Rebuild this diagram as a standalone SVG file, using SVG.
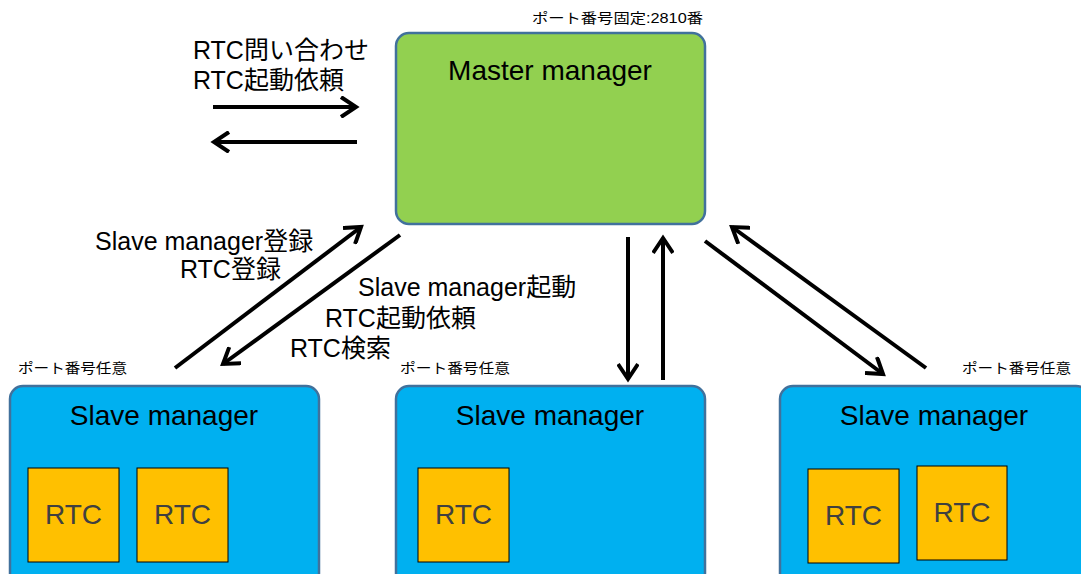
<svg xmlns="http://www.w3.org/2000/svg" width="1081" height="574" viewBox="0 0 1081 574">
<style>
text{font-family:"Liberation Sans","Noto Sans CJK JP",sans-serif;fill:#000}
.mgr{fill:#92D050;stroke:#41719C;stroke-width:2.5}
.slv{fill:#00B0F0;stroke:#41719C;stroke-width:2.5}
.rtc{fill:#FFC000;stroke:#000;stroke-width:1}
.rt{font-size:28px;fill:#404040;text-anchor:middle}
.title{font-size:28px;text-anchor:middle}
.lbl{font-size:25px}
.port{font-size:14px}
.arr{stroke:#000;stroke-width:4;fill:none;marker-end:url(#ah)}
</style>
<defs>
<marker id="ah" markerUnits="userSpaceOnUse" viewBox="0 0 22 22" markerWidth="22" markerHeight="22" refX="18" refY="11" orient="auto">
<path d="M3,1 L18,11 L3,21" fill="none" stroke="#000" stroke-width="4" stroke-linejoin="miter"/>
</marker>
</defs>
<g id="master">
<rect class="mgr" x="396" y="33" width="309" height="191" rx="13"/>
<text class="title" x="550" y="80">Master manager</text>
<text class="port" x="532" y="23" textLength="171" lengthAdjust="spacingAndGlyphs">ポート番号固定:2810番</text>
</g>
<g id="slave1">
<rect class="slv" x="10" y="386" width="309" height="200" rx="13"/>
<text class="title" x="164" y="425">Slave manager</text>
<rect class="rtc" x="28" y="468" width="91" height="94"/>
<text class="rt" x="73.5" y="524">RTC</text>
<rect class="rtc" x="137" y="468" width="91" height="94"/>
<text class="rt" x="182.5" y="524">RTC</text>
<text class="port" x="18" y="373" textLength="109" lengthAdjust="spacingAndGlyphs">ポート番号任意</text>
</g>
<g id="slave2">
<rect class="slv" x="396" y="386" width="309" height="200" rx="13"/>
<text class="title" x="550" y="425">Slave manager</text>
<rect class="rtc" x="418" y="468" width="91" height="94"/>
<text class="rt" x="463.5" y="524">RTC</text>
<text class="port" x="400" y="373" textLength="110" lengthAdjust="spacingAndGlyphs">ポート番号任意</text>
</g>
<g id="slave3">
<rect class="slv" x="780" y="386" width="309" height="200" rx="13"/>
<text class="title" x="934" y="425">Slave manager</text>
<rect class="rtc" x="808" y="469" width="91" height="94"/>
<text class="rt" x="853.5" y="525">RTC</text>
<rect class="rtc" x="917" y="466" width="90" height="94"/>
<text class="rt" x="962" y="522">RTC</text>
<text class="port" x="962" y="373" textLength="109" lengthAdjust="spacingAndGlyphs">ポート番号任意</text>
</g>
<g id="labels">
<text class="lbl" x="193" y="59">RTC問い合わせ</text>
<text class="lbl" x="193" y="89">RTC起動依頼</text>
<text class="lbl" x="95" y="250">Slave manager登録</text>
<text class="lbl" x="180" y="278">RTC登録</text>
<text class="lbl" x="358" y="296">Slave manager起動</text>
<text class="lbl" x="325" y="327">RTC起動依頼</text>
<text class="lbl" x="290" y="357">RTC検索</text>
</g>
<g id="connectors">
<line class="arr" x1="213" y1="107" x2="356" y2="107"/>
<line class="arr" x1="357" y1="142" x2="214" y2="142"/>
<line class="arr" x1="175" y1="368" x2="361" y2="227"/>
<line class="arr" x1="400" y1="235" x2="223" y2="364"/>
<line class="arr" x1="628" y1="237" x2="628" y2="379"/>
<line class="arr" x1="663" y1="380" x2="663" y2="238"/>
<line class="arr" x1="705" y1="241" x2="883" y2="374"/>
<line class="arr" x1="926" y1="368" x2="732" y2="227"/>
</g>
</svg>
